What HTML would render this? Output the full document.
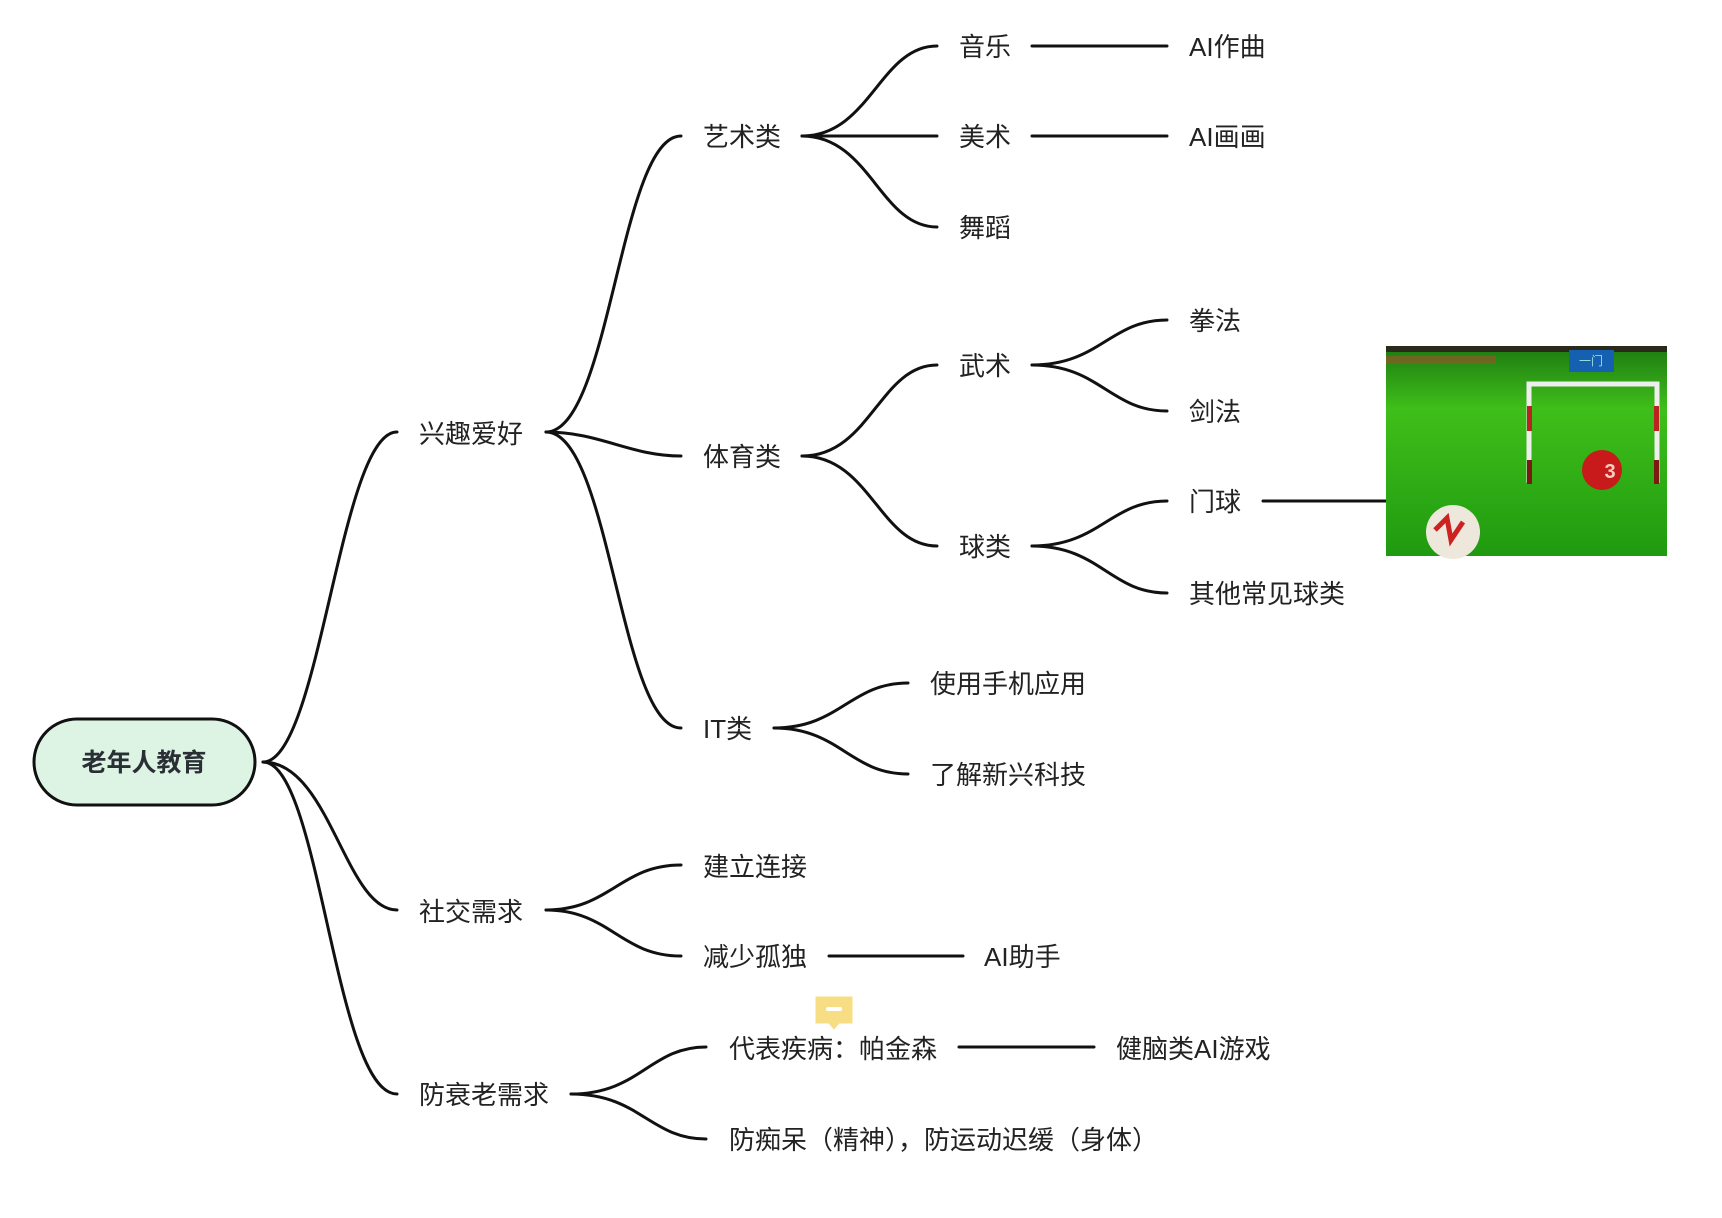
<!DOCTYPE html>
<html><head><meta charset="utf-8"><style>
html,body{margin:0;padding:0;background:#fff;}
svg{display:block;}
text{font-family:"Liberation Sans","Noto Sans CJK SC",sans-serif;font-size:26px;fill:#222;dominant-baseline:central;}
</style></head><body>
<svg width="1722" height="1218" viewBox="0 0 1722 1218" xmlns="http://www.w3.org/2000/svg">
<defs>
<linearGradient id="g" x1="0" y1="0" x2="0" y2="1">
<stop offset="0" stop-color="#1d7a12"/><stop offset="0.3" stop-color="#3fbf1a"/><stop offset="1" stop-color="#1f9a10"/>
</linearGradient>
</defs>
<g fill="none" stroke="#111" stroke-width="3" stroke-linecap="round">
<path d="M263 762 C320 762 340 432 397 432"/>
<path d="M263 762 C330 762 345 910 397 910"/>
<path d="M263 762 C320 762 335 1094 397 1094"/>
<path d="M546 432 C610 432 620 136 681 136"/>
<path d="M546 432 C600 432 630 456 681 456"/>
<path d="M546 432 C610 432 620 728 681 728"/>
<path d="M802 136 C870 136 880 46 937 46"/>
<path d="M802 136 L937 136"/>
<path d="M802 136 C870 136 880 227 937 227"/>
<path d="M1032 46 L1167 46"/>
<path d="M1032 136 L1167 136"/>
<path d="M802 456 C870 456 880 365 937 365"/>
<path d="M802 456 C870 456 880 546 937 546"/>
<path d="M1032 365 C1100 365 1110 320 1167 320"/>
<path d="M1032 365 C1100 365 1110 411 1167 411"/>
<path d="M1032 546 C1100 546 1110 501 1167 501"/>
<path d="M1032 546 C1100 546 1110 593 1167 593"/>
<path d="M1263 501 L1386 501"/>
<path d="M774 728 C840 728 850 683 908 683"/>
<path d="M774 728 C840 728 850 774 908 774"/>
<path d="M546 910 C610 910 620 865 681 865"/>
<path d="M546 910 C610 910 620 956 681 956"/>
<path d="M829 956 L963 956"/>
<path d="M571 1094 C640 1094 650 1047 706 1047"/>
<path d="M571 1094 C640 1094 650 1139 706 1139"/>
<path d="M959 1047 L1094 1047"/>
</g>
<rect x="34" y="719" width="221" height="86" rx="43" fill="#ddf4e4" stroke="#111" stroke-width="3"/>
<text x="144" y="763" text-anchor="middle" style="font-weight:bold;font-size:25px;fill:#2a2f36">老年人教育</text>
<text x="419" y="434">兴趣爱好</text>
<text x="703" y="137">艺术类</text>
<text x="959" y="47">音乐</text>
<text x="1189" y="47">AI作曲</text>
<text x="959" y="137">美术</text>
<text x="1189" y="137">AI画画</text>
<text x="959" y="228">舞蹈</text>
<text x="703" y="457">体育类</text>
<text x="959" y="366">武术</text>
<text x="1189" y="321">拳法</text>
<text x="1189" y="412">剑法</text>
<text x="959" y="547">球类</text>
<text x="1189" y="502">门球</text>
<text x="1189" y="594">其他常见球类</text>
<text x="703" y="729">IT类</text>
<text x="930" y="684">使用手机应用</text>
<text x="930" y="775">了解新兴科技</text>
<text x="419" y="912">社交需求</text>
<text x="703" y="867">建立连接</text>
<text x="703" y="957">减少孤独</text>
<text x="984" y="957">AI助手</text>
<text x="419" y="1095">防衰老需求</text>
<text x="729" y="1049">代表疾病：帕金森</text>
<text x="1116" y="1049">健脑类AI游戏</text>
<text x="729" y="1140">防痴呆（精神），防运动迟缓（身体）</text>
<path d="M814 995 h40 v30 h-14 l-6 7 l-6 -7 h-14 z" fill="#f7dd83" stroke="#fff" stroke-width="3"/>
<rect x="826" y="1007" width="16" height="4" rx="2" fill="#fff"/>
<rect x="1386" y="346" width="281" height="210" fill="url(#g)"/>
<rect x="1386" y="346" width="281" height="6" fill="#2a2a1a"/>
<rect x="1386" y="356" width="110" height="8" fill="#a0502a" opacity="0.6"/>
<rect x="1569" y="350" width="45" height="22" fill="#1560b0"/>
<text x="1591" y="361" text-anchor="middle" style="font-size:12px;fill:#9dd">一门</text>
<path d="M1529 483 V384 h128 V483" fill="none" stroke="#eee" stroke-width="5"/>
<rect x="1527" y="406" width="5" height="25" fill="#b22"/>
<rect x="1654" y="406" width="5" height="25" fill="#b22"/>
<rect x="1527" y="460" width="5" height="24" fill="#7a1a10"/>
<rect x="1654" y="460" width="5" height="24" fill="#7a1a10"/>
<circle cx="1602" cy="470" r="20" fill="#c81a1a"/>
<text x="1610" y="472" text-anchor="middle" style="font-size:20px;fill:#f0d0c0;font-weight:bold">3</text>
<circle cx="1453" cy="532" r="27" fill="#eee8dc"/>
<path d="M1435 530 l12 -12 l4 22 l12 -18" fill="none" stroke="#c22" stroke-width="5"/>
</svg>
</body></html>
